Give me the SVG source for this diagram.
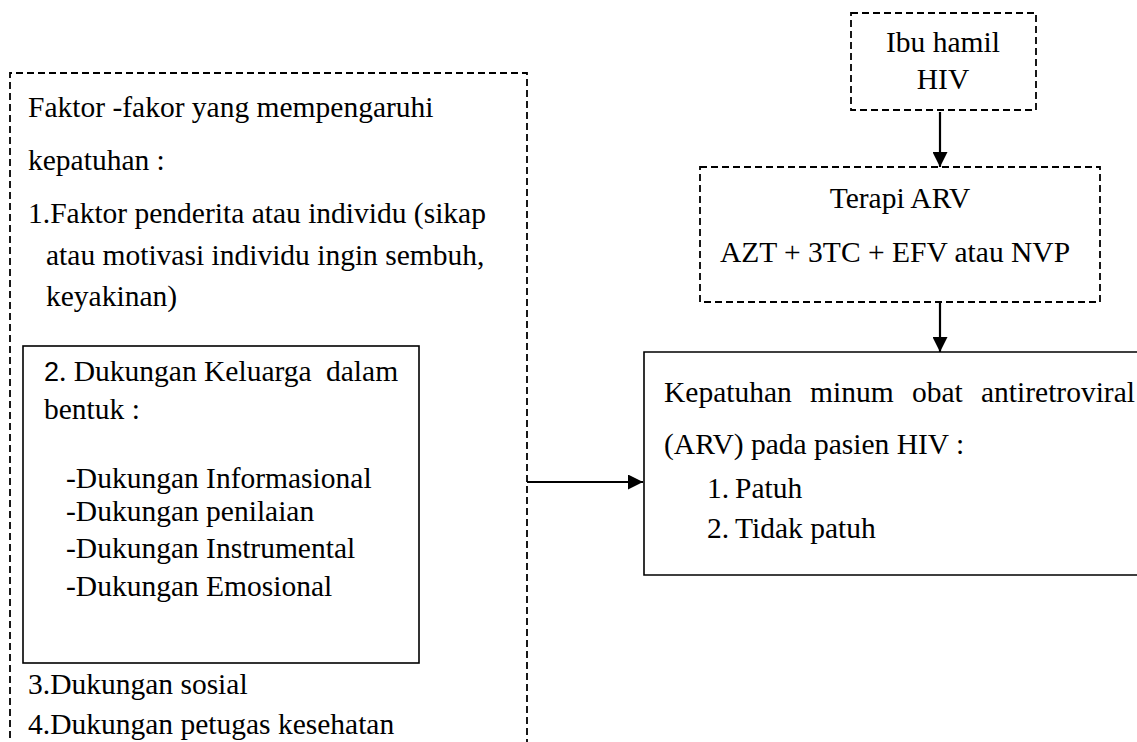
<svg xmlns="http://www.w3.org/2000/svg" width="1137" height="742" viewBox="0 0 1137 742">
<defs>
<style>
.t{font-family:"Liberation Serif","Times New Roman",serif;font-size:29.5px;fill:#000}
.s{font-family:"Liberation Sans",Arial,sans-serif;font-size:27px}
.dash{fill:none;stroke:#000;stroke-width:1.8;stroke-dasharray:7 4}
.solid{fill:none;stroke:#000;stroke-width:1.6}
.line{fill:none;stroke:#000;stroke-width:2.2}
</style>
<marker id="ah" viewBox="0 0 10 10" refX="10" refY="5" markerWidth="17" markerHeight="15" markerUnits="userSpaceOnUse" orient="auto">
<path d="M0,0 L10,5 L0,10 Z" fill="#000"/>
</marker>
</defs>
<rect width="1137" height="742" fill="#fff"/>

<g id="faktor">
<path class="dash" d="M10,760 L10,73 L527,73 L527,760"/>
<text class="t" x="28" y="117">Faktor -fakor yang mempengaruhi</text>
<text class="t" x="28" y="170">kepatuhan :</text>
<text class="t" x="28" y="223">1.Faktor penderita atau individu (sikap</text>
<text class="t" x="46" y="265">atau motivasi individu ingin sembuh,</text>
<text class="t" x="46" y="306">keyakinan)</text>
<text class="t" x="28" y="694">3.Dukungan sosial</text>
<text class="t" x="28" y="734">4.Dukungan petugas kesehatan</text>
</g>

<g id="keluarga">
<rect class="solid" x="23" y="346" width="396" height="317" stroke="#222"/>
<text class="t" x="44" y="381"><tspan class="s">2</tspan>. Dukungan Keluarga <tspan x="326">dalam</tspan></text>
<text class="t" x="44" y="419">bentuk :</text>
<text class="t" x="66" y="488">-Dukungan Informasional</text>
<text class="t" x="66" y="521">-Dukungan penilaian</text>
<text class="t" x="66" y="558">-Dukungan Instrumental</text>
<text class="t" x="66" y="596">-Dukungan Emosional</text>
</g>

<g id="ibu">
<rect class="dash" x="851" y="13" width="185" height="97"/>
<text class="t" x="943" y="52" text-anchor="middle">Ibu hamil</text>
<text class="t" x="943" y="89" text-anchor="middle">HIV</text>
</g>

<g id="terapi">
<rect class="dash" x="700" y="167" width="400" height="135"/>
<text class="t" x="900" y="208" text-anchor="middle">Terapi ARV</text>
<text class="t" x="895" y="262" text-anchor="middle">AZT + 3TC + EFV atau NVP</text>
</g>

<g id="kepatuhan">
<path class="solid" d="M1140,352 L644,352 L644,575 L1140,575"/>
<text class="t" y="402"><tspan x="664">Kepatuhan</tspan><tspan x="810">minum</tspan><tspan x="912">obat</tspan><tspan x="981">antiretroviral</tspan></text>
<text class="t" x="664" y="454">(ARV) pada pasien HIV :</text>
<text class="t" x="707" y="498">1.</text>
<text class="t" x="735" y="498">Patuh</text>
<text class="t" x="707" y="538">2.</text>
<text class="t" x="735" y="538">Tidak patuh</text>
</g>

<g id="connectors">
<line class="line" x1="940" y1="112" x2="940" y2="167" marker-end="url(#ah)"/>
<line class="line" x1="940" y1="303" x2="940" y2="352" marker-end="url(#ah)"/>
<line class="line" x1="527" y1="482" x2="643" y2="482" marker-end="url(#ah)"/>
</g>
</svg>
